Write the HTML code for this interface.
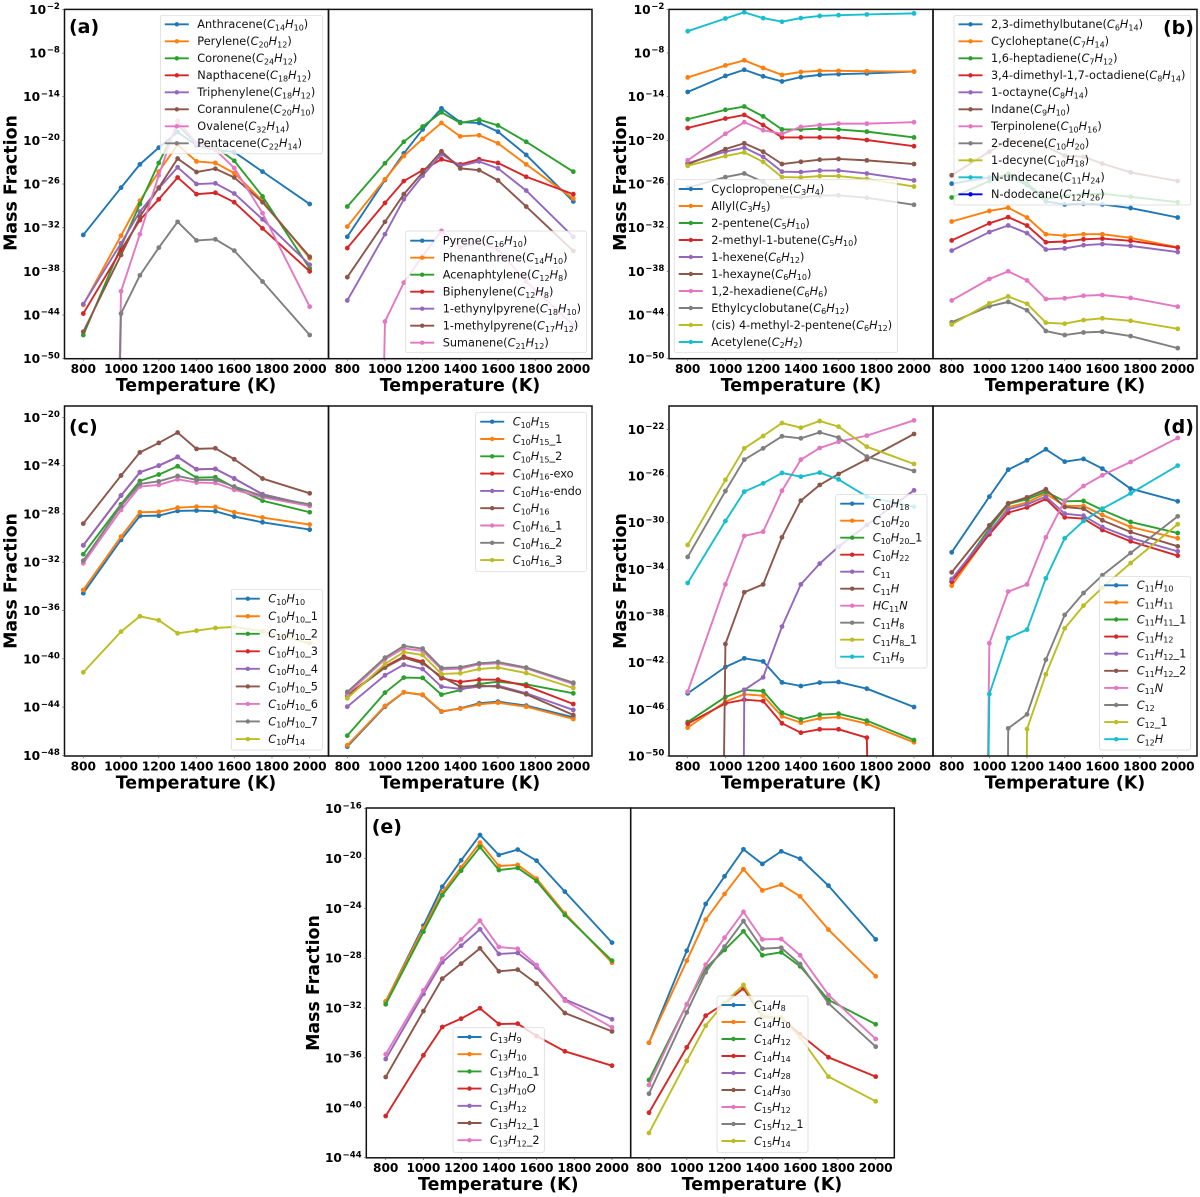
<!DOCTYPE html>
<html lang="en">
<head>
<meta charset="utf-8">
<title>Mass fraction vs temperature</title>
<style>
html,body{margin:0;padding:0;background:#fff;width:1200px;height:1197px;overflow:hidden;}
svg{display:block;overflow:hidden;}
text{font-family:"DejaVu Sans","Liberation Sans",sans-serif;fill:#000;}
.title{font-weight:bold;font-size:17.4px;}
.letter{font-weight:bold;font-size:19px;}
.tick{font-weight:bold;font-size:12.2px;}
.leg{font-size:11.3px;fill:#111;}
</style>
</head>
<body>
<svg id="chart" xmlns="http://www.w3.org/2000/svg" width="1200" height="1197" viewBox="0 0 1200 1197">
<rect x="0" y="0" width="1200" height="1197" fill="#fff"/>
<g id="plots"></g>

<text class="letter" x="69" y="33">(a)</text>
<text class="letter" x="1163" y="34">(b)</text>
<text class="letter" x="69" y="433">(c)</text>
<text class="letter" x="1163" y="433">(d)</text>
<text class="letter" x="371.7" y="833">(e)</text>

<text class="title" x="196" y="391" text-anchor="middle">Temperature (K)</text>
<text class="title" x="460" y="391" text-anchor="middle">Temperature (K)</text>
<text class="title" x="801" y="391" text-anchor="middle">Temperature (K)</text>
<text class="title" x="1065" y="391" text-anchor="middle">Temperature (K)</text>
<text class="title" x="196" y="788.5" text-anchor="middle">Temperature (K)</text>
<text class="title" x="460" y="788.5" text-anchor="middle">Temperature (K)</text>
<text class="title" x="801" y="788.5" text-anchor="middle">Temperature (K)</text>
<text class="title" x="1065" y="788.5" text-anchor="middle">Temperature (K)</text>
<text class="title" x="498.3" y="1190" text-anchor="middle">Temperature (K)</text>
<text class="title" x="762" y="1190" text-anchor="middle">Temperature (K)</text>

<text class="title" x="16.7" y="183" text-anchor="middle" transform="rotate(-90 16.7 183)">Mass Fraction</text>
<text class="title" x="626" y="183" text-anchor="middle" transform="rotate(-90 626 183)">Mass Fraction</text>
<text class="title" x="16.7" y="581" text-anchor="middle" transform="rotate(-90 16.7 581)">Mass Fraction</text>
<text class="title" x="626" y="581" text-anchor="middle" transform="rotate(-90 626 581)">Mass Fraction</text>
<text class="title" x="319" y="983" text-anchor="middle" transform="rotate(-90 319 983)">Mass Fraction</text>
</svg>

<script>
// Shared x categories and tick labels
const temperatures = [800, 1000, 1100, 1200, 1300, 1400, 1500, 1600, 1750, 2000];
const xTickLabels = [800, 1000, 1200, 1400, 1600, 1800, 2000];
const yTicksAB = [-50, -44, -38, -32, -26, -20, -14, -8, -2];
const yTicksC = [-48, -44, -40, -36, -32, -28, -24, -20];
const yTicksD = [-50, -46, -42, -38, -34, -30, -26, -22];
const yTicksE = [-44, -40, -36, -32, -28, -24, -20, -16];
// All series values are log10(mass fraction); -300 is a zero clipped by the log axis.

// Panel (a) left
const a1Labels = ['Anthracene($C_{14}H_{10}$)', 'Perylene($C_{20}H_{12}$)', 'Coronene($C_{24}H_{12}$)', 'Napthacene($C_{18}H_{12}$)', 'Triphenylene($C_{18}H_{12}$)', 'Corannulene($C_{20}H_{10}$)', 'Ovalene($C_{32}H_{14}$)', 'Pentacene($C_{22}H_{14}$)'];
const a1Anthracene = [-33, -26.5, -23.3, -21, -18.85, -20.7, -21.3, -21.6, -24.3, -28.75];
const a1Perylene = [-42.6, -33.1, -28.3, -24.3, -20.6, -22.9, -23.1, -24.5, -28.3, -36.2];
const a1Coronene = [-46.75, -34.6, -28.75, -23.1, -17.9, -20.5, -20.9, -22.8, -27.7, -37.6];
const a1Napthacene = [-43.8, -35.1, -30.95, -28.1, -25.1, -27.4, -27.2, -28.5, -32.1, -38];
const a1Triphenylene = [-42.5, -34.15, -29.8, -26.6, -23.7, -26, -25.9, -27.3, -30.85, -37.1];
const a1Corannulene = [-46.3, -35.75, -30.5, -26.5, -22.5, -24.35, -23.9, -25.1, -28.5, -36];
const a1Ovalene = [-300, -40.75, -32.9, -24.8, -17.3, -20.4, -21.3, -23.8, -30, -42.85];
const a1Pentacene = [-300, -43.8, -38.55, -34.75, -31.2, -33.75, -33.6, -35.15, -39.4, -46.75];

// Panel (a) right
const a2Labels = ['Pyrene($C_{16}H_{10}$)', 'Phenanthrene($C_{14}H_{10}$)', 'Acenaphtylene($C_{12}H_{8}$)', 'Biphenylene($C_{12}H_{8}$)', '1-ethynylpyrene($C_{18}H_{10}$)', '1-methylpyrene($C_{17}H_{12}$)', 'Sumanene($C_{21}H_{12}$)'];
const a2Pyrene = [-33.25, -25.45, -21.8, -18.5, -15.6, -17.5, -17.6, -18.8, -22, -28.4];
const a2Phenanthrene = [-31.85, -25.35, -22.15, -19.8, -17.6, -19.45, -19.3, -20.4, -23.3, -28];
const a2Acenaphtylene = [-29.1, -23.15, -20.2, -18.1, -16.15, -17.6, -17.15, -17.95, -20.2, -24.3];
const a2Biphenylene = [-34.8, -28.6, -25.6, -24.1, -22.6, -23.3, -22.6, -23.1, -25, -27.4];
const a2Ethynylpyrene = [-42, -32.9, -28.1, -24.85, -21.9, -23.5, -22.9, -23.85, -26.9, -33.25];
const a2Methylpyrene = [-38.8, -31.2, -27.4, -24.4, -21.5, -23.85, -24.1, -25.5, -29.1, -35.2];
const a2Sumanene = [-300, -44.9, -39.55, -35.9, -32.45, -34.7, -34.05, -35, -39.4, -45.4];

// Panel (b) left
const b1Labels = ['Cyclopropene($C_{3}H_{4}$)', 'Allyl($C_{3}H_{5}$)', '2-pentene($C_{5}H_{10}$)', '2-methyl-1-butene($C_{5}H_{10}$)', '1-hexene($C_{6}H_{12}$)', '1-hexayne($C_{6}H_{10}$)', '1,2-hexadiene($C_{6}H_{6}$)', 'Ethylcyclobutane($C_{6}H_{12}$)', '(cis) 4-methyl-2-pentene($C_{6}H_{12}$)', 'Acetylene($C_{2}H_{2}$)'];
const b1Cyclopropene = [-13.35, -11.15, -10.3, -11.2, -11.9, -11.3, -11, -10.9, -10.8, -10.55];
const b1Allyl = [-11.35, -9.7, -9, -10.05, -11, -10.6, -10.45, -10.45, -10.5, -10.55];
const b1Pentene = [-17.1, -15.8, -15.35, -16.7, -18.5, -18.5, -18.4, -18.5, -18.8, -19.6];
const b1MethylButene = [-18.3, -17, -16.5, -17.9, -19.6, -19.6, -19.6, -19.6, -19.95, -20.8];
const b1Hexene = [-23.15, -21.55, -21, -22.25, -24.3, -24.35, -24.15, -24.15, -24.55, -25.5];
const b1Hexayne = [-23.3, -21.2, -20.4, -21.55, -23.25, -22.95, -22.65, -22.55, -22.75, -23.25];
const b1Hexadiene = [-22.75, -19.1, -17.5, -18.6, -19.1, -18.15, -17.9, -17.7, -17.7, -17.5];
const b1Ethylcyclobutane = [-26.5, -25.05, -24.55, -25.7, -27.8, -27.8, -27.6, -27.55, -27.9, -28.85];
const b1MethylPentene = [-23.5, -22.15, -21.65, -22.95, -25.05, -25.1, -24.9, -24.9, -25.3, -26.35];
const b1Acetylene = [-5, -3.25, -2.4, -3.2, -3.7, -3.2, -2.9, -2.8, -2.7, -2.55];

// Panel (b) right
const b2Labels = ['2,3-dimethylbutane($C_{6}H_{14}$)', 'Cycloheptane($C_{7}H_{14}$)', '1,6-heptadiene($C_{7}H_{12}$)', '3,4-dimethyl-1,7-octadiene($C_{8}H_{14}$)', '1-octayne($C_{8}H_{14}$)', 'Indane($C_{9}H_{10}$)', 'Terpinolene($C_{10}H_{16}$)', '2-decene($C_{10}H_{20}$)', '1-decyne($C_{10}H_{18}$)', 'N-undecane($C_{11}H_{24}$)', 'N-dodecane($C_{12}H_{26}$)'];
const b2Dimethylbutane = [-25.95, -25.1, -24.85, -26.15, -28.4, -28.8, -28.7, -28.8, -29.3, -30.6];
const b2Cycloheptane = [-31.15, -29.7, -29.25, -30.6, -32.9, -33.1, -32.9, -32.9, -33.4, -34.7];
const b2Heptadiene = [-27.85, -25.6, -24.6, -25.9, -28.05, -27.6, -27.4, -27.35, -27.75, -28.5];
const b2Octadiene = [-33.75, -31.4, -30.55, -31.7, -34, -33.9, -33.6, -33.5, -33.8, -34.75];
const b2Octayne = [-35.15, -32.6, -31.7, -32.75, -35, -34.85, -34.4, -34.25, -34.5, -35.35];
const b2Indane = [-24.8, -21.55, -19.95, -20.5, -20.85, -22.1, -22.25, -23.2, -24.4, -25.6];
const b2Terpinolene = [-42, -39.05, -38, -39.25, -41.8, -41.7, -41.35, -41.25, -41.65, -42.85];
const b2Decene = [-45, -42.8, -42.2, -43.35, -46.2, -46.75, -46.4, -46.3, -46.9, -48.55];
const b2Decyne = [-45.3, -42.4, -41.45, -42.45, -45.05, -45.2, -44.7, -44.45, -44.8, -45.9];
const b2Undecane = [-300, -300, -300, -300, -300, -300, -300, -300, -300, -300];
const b2Dodecane = [-300, -300, -300, -300, -300, -300, -300, -300, -300, -300];

// Panel (c) left
const c1Labels = ['$C_{10}H_{10}$', '$C_{10}H_{10}$_1', '$C_{10}H_{10}$_2', '$C_{10}H_{10}$_3', '$C_{10}H_{10}$_4', '$C_{10}H_{10}$_5', '$C_{10}H_{10}$_6', '$C_{10}H_{10}$_7', '$C_{10}H_{14}$'];
const c1H10 = [-34.57, -30.15, -28.17, -28.14, -27.75, -27.72, -27.78, -28.22, -28.69, -29.3];
const c1H10v1 = [-34.3, -29.88, -27.86, -27.83, -27.48, -27.4, -27.42, -27.86, -28.3, -28.88];
const c1H10v2 = [-31.34, -27.2, -25.27, -24.74, -24.05, -25, -24.96, -25.8, -26.9, -27.86];
const c1H10v3 = [-30.6, -26.48, -24.55, -24, -23.28, -24.3, -24.27, -25.07, -26.37, -27.28];
const c1H10v4 = [-30.6, -26.48, -24.55, -24, -23.28, -24.3, -24.27, -25.07, -26.37, -27.28];
const c1H10v5 = [-28.8, -24.82, -22.9, -22.12, -21.26, -22.61, -22.56, -23.47, -25.07, -26.29];
const c1H10v6 = [-32.09, -27.67, -25.73, -25.6, -25.13, -25.4, -25.43, -26, -26.62, -27.34];
const c1H10v7 = [-31.87, -27.34, -25.51, -25.3, -24.85, -25.18, -25.18, -25.73, -26.51, -27.2];
const c1H14 = [-41.12, -37.75, -36.48, -36.81, -37.89, -37.67, -37.45, -37.36, -37.72, -38.72];

// Panel (c) right
const c2Labels = ['$C_{10}H_{15}$', '$C_{10}H_{15}$_1', '$C_{10}H_{15}$_2', '$C_{10}H_{16}$-exo', '$C_{10}H_{16}$-endo', '$C_{10}H_{16}$', '$C_{10}H_{16}$_1', '$C_{10}H_{16}$_2', '$C_{10}H_{16}$_3'];
const c2H15 = [-47.28, -43.97, -42.78, -43, -44.38, -44.1, -43.69, -43.55, -43.88, -44.85];
const c2H15v1 = [-47.17, -43.91, -42.78, -42.97, -44.35, -44.13, -43.77, -43.64, -43.97, -44.99];
const c2H15v2 = [-46.37, -42.81, -41.56, -41.59, -42.97, -42.59, -42.09, -41.9, -42.12, -42.86];
const c2H16Exo = [-43.03, -40.65, -39.82, -40.24, -41.62, -41.92, -41.73, -41.73, -42.25, -43.75];
const c2H16Endo = [-43.97, -41.37, -40.49, -40.85, -42.31, -42.5, -42.31, -42.23, -42.86, -44.24];
const c2H16 = [-43.08, -40.73, -39.91, -40.38, -41.48, -42.31, -42.23, -42.31, -42.94, -44.66];
const c2H16v1 = [-42.92, -40.04, -39.13, -39.35, -40.87, -40.82, -40.46, -40.38, -40.79, -42.09];
const c2H16v2 = [-42.75, -39.91, -38.94, -39.16, -40.76, -40.71, -40.38, -40.27, -40.73, -41.98];
const c2H16v3 = [-43.28, -40.43, -39.44, -39.69, -41.26, -41.2, -40.85, -40.73, -41.18, -42.42];

// Panel (d) left
const d1Labels = ['$C_{10}H_{18}$', '$C_{10}H_{20}$', '$C_{10}H_{20}$_1', '$C_{10}H_{22}$', '$C_{11}$', '$C_{11}H$', '$HC_{11}N$', '$C_{11}H_{8}$', '$C_{11}H_{8}$_1', '$C_{11}H_{9}$'];
const d1C10H18 = [-44.63, -42.37, -41.63, -41.89, -43.69, -44, -43.71, -43.66, -44.23, -45.8];
const d1C10H20 = [-47.57, -45.34, -44.71, -44.83, -46.6, -47.14, -46.77, -46.66, -47.23, -48.83];
const d1C10H20v1 = [-47.09, -44.94, -44.34, -44.43, -46.29, -46.86, -46.46, -46.37, -46.97, -48.63];
const d1C10H22 = [-47.23, -45.49, -45.17, -45.29, -47.2, -48, -47.71, -47.71, -48.43, -300];
const d1C11 = [-300, -300, -44.34, -43.26, -38.91, -35.29, -33.51, -32.06, -30.2, -27.23];
const d1C11H = [-300, -40.4, -35.97, -35.29, -31.26, -28.11, -26.77, -25.83, -24.57, -22.4];
const d1HC11N = [-44.49, -35.29, -31.14, -30.77, -27.26, -24.6, -23.6, -23.06, -22.54, -21.23];
const d1C11H8 = [-32.94, -27.29, -24.6, -23.63, -22.6, -22.77, -22.26, -22.71, -24.34, -25.57];
const d1C11H8v1 = [-31.91, -26.34, -23.63, -22.57, -21.46, -21.86, -21.29, -21.77, -23.49, -24.97];
const d1C11H9 = [-35.17, -29.86, -27.34, -26.63, -25.74, -26.06, -25.71, -26.29, -27.77, -28.63];

// Panel (d) right
const d2Labels = ['$C_{11}H_{10}$', '$C_{11}H_{11}$', '$C_{11}H_{11}$_1', '$C_{11}H_{12}$', '$C_{11}H_{12}$_1', '$C_{11}H_{12}$_2', '$C_{11}N$', '$C_{12}$', '$C_{12}$_1', '$C_{12}H$'];
const d2C11H10 = [-32.54, -27.77, -25.46, -24.66, -23.71, -24.77, -24.54, -25.37, -27.09, -28.17];
const d2C11H11 = [-35.4, -30.91, -28.69, -28.26, -27.51, -28.57, -28.57, -29.34, -30.37, -31.34];
const d2C11H11v1 = [-35.06, -30.49, -28.4, -28, -27.34, -28.17, -28.14, -28.91, -29.94, -30.89];
const d2C11H12 = [-35.06, -31, -29.14, -28.69, -27.97, -29.54, -29.66, -30.63, -31.6, -32.83];
const d2C11H12v1 = [-34.83, -30.77, -28.86, -28.43, -27.77, -29.23, -29.4, -30.37, -31.31, -32.46];
const d2C11H12v2 = [-34.26, -30.23, -28.34, -27.83, -27.14, -28.66, -28.8, -29.8, -30.8, -32.03];
const d2C11N = [-300, -40.34, -35.91, -35.29, -31.26, -28.11, -26.86, -25.94, -24.8, -22.74];
const d2C12 = [-300, -300, -47.63, -46.43, -41.74, -37.91, -36.03, -34.51, -32.6, -29.46];
const d2C12v1 = [-300, -300, -300, -47.69, -43, -39.06, -37.11, -35.57, -33.46, -30.14];
const d2C12H = [-300, -44.69, -39.89, -39.17, -34.77, -31.34, -29.86, -28.8, -27.49, -25.11];

// Panel (e) left
const e1Labels = ['$C_{13}H_{9}$', '$C_{13}H_{10}$', '$C_{13}H_{10}$_1', '$C_{13}H_{10}O$', '$C_{13}H_{12}$', '$C_{13}H_{12}$_1', '$C_{13}H_{12}$_2'];
const e1H9 = [-31.49, -25.39, -22.26, -20.15, -18.12, -19.72, -19.29, -20.18, -22.66, -26.75];
const e1H10 = [-31.46, -25.6, -22.72, -20.71, -18.73, -20.6, -20.52, -21.62, -24.4, -28.36];
const e1H10v1 = [-31.7, -25.87, -22.96, -20.98, -19.08, -20.93, -20.76, -21.81, -24.53, -28.2];
const e1H10O = [-40.66, -35.79, -33.52, -32.85, -32.02, -33.28, -33.25, -34.24, -35.47, -36.62];
const e1H12 = [-36.09, -30.87, -28.33, -27, -25.68, -27.66, -27.58, -28.73, -31.3, -32.9];
const e1H12v1 = [-37.53, -32.24, -29.64, -28.44, -27.21, -29.05, -28.92, -30.04, -32.4, -33.87];
const e1H12v2 = [-35.71, -30.58, -28.04, -26.49, -24.99, -27.1, -27.24, -28.55, -31.41, -33.55];

// Panel (e) right
const e2Labels = ['$C_{14}H_{8}$', '$C_{14}H_{10}$', '$C_{14}H_{12}$', '$C_{14}H_{14}$', '$C_{14}H_{28}$', '$C_{14}H_{30}$', '$C_{15}H_{12}$', '$C_{15}H_{12}$_1', '$C_{15}H_{14}$'];
const e2C14H8 = [-34.78, -27.4, -23.65, -21.43, -19.27, -20.44, -19.43, -20.02, -22.18, -26.49];
const e2C14H10 = [-34.78, -28.2, -24.91, -22.85, -20.87, -22.56, -22.1, -23.04, -25.71, -29.45];
const e2C14H12 = [-37.77, -31.7, -28.81, -27.34, -25.84, -27.77, -27.53, -28.65, -31.35, -33.3];
const e2C14H14 = [-40.39, -35.15, -32.61, -31.62, -30.42, -32.69, -32.77, -34.11, -35.95, -37.5];
const e2C14H28 = [-300, -300, -300, -300, -300, -300, -300, -300, -300, -300];
const e2C14H30 = [-300, -300, -300, -300, -300, -300, -300, -300, -300, -300];
const e2C15H12 = [-38.17, -31.7, -28.52, -26.35, -24.29, -26.49, -26.46, -27.77, -30.95, -34.48];
const e2C15H12v1 = [-38.87, -32.34, -29.13, -27.07, -25.02, -27.24, -27.16, -28.47, -31.62, -35.1];
const e2C15H14 = [-42.02, -36.25, -33.41, -31.57, -30.15, -32.64, -32.77, -34.35, -37.5, -39.48];

const SVGNS = 'http://www.w3.org/2000/svg';
const seriesColors = ['#1f77b4', '#ff7f0e', '#2ca02c', '#d62728', '#9467bd', '#8c564b', '#e377c2', '#7f7f7f', '#bcbd22', '#17becf', '#0000ff'];

function make(tag, parent, attrs) {
  const el = document.createElementNS(SVGNS, tag);
  for (const k in attrs) el.setAttribute(k, attrs[k]);
  parent.appendChild(el);
  return el;
}

function slugify(s) {
  return s.replace(/[${}_()]/g, ' ').trim().replace(/[^A-Za-z0-9]+/g, '-').toLowerCase();
}

// Writes "plain $C_{10}H_{8}$ plain" as italic formula text with subscripts.
function writeFormula(textEl, label) {
  const parts = label.split('$');
  let pendingDy = 0;
  parts.forEach(function (part, idx) {
    if (!part) return;
    if (idx % 2 === 0) {
      const t = make('tspan', textEl, {});
      if (pendingDy) t.setAttribute('dy', pendingDy);
      pendingDy = 0;
      t.textContent = part;
      return;
    }
    const re = /_\{(\d+)\}|([^_]+)/g;
    let m;
    while ((m = re.exec(part)) !== null) {
      const t = make('tspan', textEl, { 'font-style': 'italic' });
      if (m[1] !== undefined) {
        t.setAttribute('font-size', '8');
        t.setAttribute('font-style', 'normal');
        t.setAttribute('dy', pendingDy + 2.2);
        pendingDy = -2.2;
        t.textContent = m[1];
      } else {
        if (pendingDy) t.setAttribute('dy', pendingDy);
        pendingDy = 0;
        t.textContent = m[2];
      }
    }
  });
}

// Builds the drawn path pieces: segments dropping below the axis stop just under the frame.
function visiblePoints(values, xAxis, yAxis, floorPx) {
  const out = [];
  values.forEach(function (v, j) {
    const x = xAxis(temperatures[j]);
    const y = yAxis(v);
    if (j > 0) {
      const px = xAxis(temperatures[j - 1]);
      const py = yAxis(values[j - 1]);
      if ((py > floorPx) !== (y > floorPx)) {
        const f = (floorPx - py) / (y - py);
        out.push((px + (x - px) * f).toFixed(2) + ',' + floorPx.toFixed(2));
      }
    }
    if (y <= floorPx) out.push(x.toFixed(2) + ',' + y.toFixed(2));
  });
  return out;
}

function drawSubplot(cfg) {
  const plots = document.getElementById('plots');
  const group = make('g', plots, {});
  
  

  const xAxis = function (t) {
    return cfg.x800 + (t - 800) * (cfg.x2000 - cfg.x800) / 1200;
  };
  const yAxis = function (logValue) {
    return cfg.yBasePx - (logValue - cfg.yBase) * cfg.pxPerDecade;
  };

  const clip = make('clipPath', group, { id: 'clip-' + cfg.id });
  make('rect', clip, { x: cfg.left, y: cfg.top, width: cfg.right - cfg.left, height: cfg.bottom - cfg.top });

  const marks = make('g', group, { 'clip-path': 'url(#clip-' + cfg.id + ')' });
  cfg.series.forEach(function (values, i) {
    const slug = slugify(cfg.labels[i]);
    const color = seriesColors[i];
    const pts = visiblePoints(values, xAxis, yAxis, cfg.bottom + 3);
    if (pts.length > 0) {
      const line = make('polyline', marks, { points: pts.join(' '), fill: 'none', stroke: color, 'stroke-width': 1.9, 'stroke-linejoin': 'round' });
      
      
    }
    values.forEach(function (v, j) {
      if (yAxis(v) > cfg.bottom + 3) return;
      const dot = make('circle', marks, { cx: xAxis(temperatures[j]).toFixed(2), cy: yAxis(v).toFixed(2), r: 2.4, fill: color });
      
      
    });
  });

  const frame = make('rect', group, { x: cfg.left, y: cfg.top, width: cfg.right - cfg.left, height: cfg.bottom - cfg.top, fill: 'none', stroke: '#111', 'stroke-width': 1.5 });
  
  

  xTickLabels.forEach(function (t) {
    const x = xAxis(t);
    const mark = make('line', group, { x1: x, x2: x, y1: cfg.bottom, y2: cfg.bottom + 2.2, stroke: '#555', 'stroke-width': 0.7 });
    
    
    const label = make('text', group, { class: 'tick', x: x, y: cfg.tickBaseline, 'text-anchor': 'middle' });
    
    
    label.textContent = t;
  });

  if (cfg.yTicks) {
    cfg.yTicks.forEach(function (e) {
      const y = yAxis(e);
      const mark = make('line', group, { x1: cfg.left - 2.2, x2: cfg.left, y1: y, y2: y, stroke: '#555', 'stroke-width': 0.7 });
      
      
      const label = make('text', group, { class: 'tick', x: cfg.left - 4.6, y: y + 4.5, 'text-anchor': 'end' });
      
      
      const base = make('tspan', label, {});
      base.textContent = '10';
      const sup = make('tspan', label, { 'font-size': '8.6', dy: '-4.8', dx: '0.6' });
      sup.textContent = '\u2212' + Math.abs(e);
    });
  }

  const lg = cfg.legend;
  const legend = make('g', group, {});
  
  
  const box = make('rect', legend, { x: lg.x, y: lg.y, width: lg.w, height: lg.h, rx: 2, fill: 'rgba(255,255,255,0.8)', stroke: 'rgba(204,204,204,0.8)', 'stroke-width': 0.7 });
  
  
  cfg.labels.forEach(function (text, i) {
    const y = lg.firstY + i * lg.step;
    const entry = make('g', legend, {});
    
    
    make('line', entry, { x1: lg.x + 4.5, x2: lg.x + 28.5, y1: y, y2: y, stroke: seriesColors[i], 'stroke-width': 1.9 });
    make('circle', entry, { cx: lg.x + 16.5, cy: y, r: 2.2, fill: seriesColors[i] });
    const t = make('text', entry, { class: 'leg', x: lg.x + 37, y: y + 3.9 });
    writeFormula(t, text);
  });
}

const rowAB = { top: 9.4, bottom: 358.7, yBase: -50, yBasePx: 358.67, pxPerDecade: 7.277, tickBaseline: 373 };
const rowC = { top: 406, bottom: 756, yBase: -48, yBasePx: 755.33, pxPerDecade: 12.07, tickBaseline: 770.4 };
const rowD = { top: 406, bottom: 756, yBase: -50, yBasePx: 756, pxPerDecade: 11.667, tickBaseline: 770.4 };
const rowE = { top: 808, bottom: 1157.8, yBase: -44, yBasePx: 1157.67, pxPerDecade: 12.467, tickBaseline: 1172 };
const colLeft = { left: 64.5, mid: 328.5, right: 592, xa: 83.3, xb: 309.7, xc: 347.3, xd: 573.3 };
const colRight = { left: 669, mid: 933, right: 1197, xa: 687.7, xb: 914, xc: 951.7, xd: 1177.7 };
const colE = { left: 366.3, mid: 630.7, right: 894.3, xa: 385.7, xb: 612, xc: 649, xd: 875.7 };

function drawPair(idBase, row, col, yTicks, leftSeries, leftLabels, leftLegend, rightSeries, rightLabels, rightLegend) {
  drawSubplot(Object.assign({}, row, { id: idBase + '-left', left: col.left, right: col.mid, x800: col.xa, x2000: col.xb, series: leftSeries, labels: leftLabels, legend: leftLegend, yTicks: yTicks }));
  drawSubplot(Object.assign({}, row, { id: idBase + '-right', left: col.mid, right: col.right, x800: col.xc, x2000: col.xd, series: rightSeries, labels: rightLabels, legend: rightLegend, yTicks: null }));
}

drawPair('a', rowAB, colLeft, yTicksAB,
  [a1Anthracene, a1Perylene, a1Coronene, a1Napthacene, a1Triphenylene, a1Corannulene, a1Ovalene, a1Pentacene], a1Labels,
  { x: 160.3, y: 15.3, w: 162, h: 138.5, firstY: 24.3, step: 17 },
  [a2Pyrene, a2Phenanthrene, a2Acenaphtylene, a2Biphenylene, a2Ethynylpyrene, a2Methylpyrene, a2Sumanene], a2Labels,
  { x: 405.7, y: 231, w: 180.6, h: 121.7, firstY: 240.7, step: 17 });

drawPair('b', rowAB, colRight, yTicksAB,
  [b1Cyclopropene, b1Allyl, b1Pentene, b1MethylButene, b1Hexene, b1Hexayne, b1Hexadiene, b1Ethylcyclobutane, b1MethylPentene, b1Acetylene], b1Labels,
  { x: 674.3, y: 179.3, w: 223, h: 173.4, firstY: 189, step: 17 },
  [b2Dimethylbutane, b2Cycloheptane, b2Heptadiene, b2Octadiene, b2Octayne, b2Indane, b2Terpinolene, b2Decene, b2Decyne, b2Undecane, b2Dodecane], b2Labels,
  { x: 954, y: 15.3, w: 236.7, h: 189.7, firstY: 24.3, step: 17 });

drawPair('c', rowC, colLeft, yTicksC,
  [c1H10, c1H10v1, c1H10v2, c1H10v3, c1H10v4, c1H10v5, c1H10v6, c1H10v7, c1H14], c1Labels,
  { x: 231.3, y: 589.3, w: 91, h: 160.7, firstY: 598.7, step: 17.54 },
  [c2H15, c2H15v1, c2H15v2, c2H16Exo, c2H16Endo, c2H16, c2H16v1, c2H16v2, c2H16v3], c2Labels,
  { x: 475.7, y: 412.3, w: 110.6, h: 159.4, firstY: 421.7, step: 17.3 });

drawPair('d', rowD, colRight, yTicksD,
  [d1C10H18, d1C10H20, d1C10H20v1, d1C10H22, d1C11, d1C11H, d1HC11N, d1C11H8, d1C11H8v1, d1C11H9], d1Labels,
  { x: 835.7, y: 494.3, w: 91.3, h: 173.7, firstY: 503.7, step: 17 },
  [d2C11H10, d2C11H11, d2C11H11v1, d2C11H12, d2C11H12v1, d2C11H12v2, d2C11N, d2C12, d2C12v1, d2C12H], d2Labels,
  { x: 1099.7, y: 576.7, w: 91, h: 173.3, firstY: 585.3, step: 17.1 });

drawPair('e', rowE, colE, yTicksE,
  [e1H9, e1H10, e1H10v1, e1H10O, e1H12, e1H12v1, e1H12v2], e1Labels,
  { x: 453, y: 1027.7, w: 91.3, h: 124.6, firstY: 1037, step: 17.2 },
  [e2C14H8, e2C14H10, e2C14H12, e2C14H14, e2C14H28, e2C14H30, e2C15H12, e2C15H12v1, e2C15H14], e2Labels,
  { x: 717, y: 996, w: 91, h: 156.3, firstY: 1005, step: 17 });
</script>
</body>
</html>
